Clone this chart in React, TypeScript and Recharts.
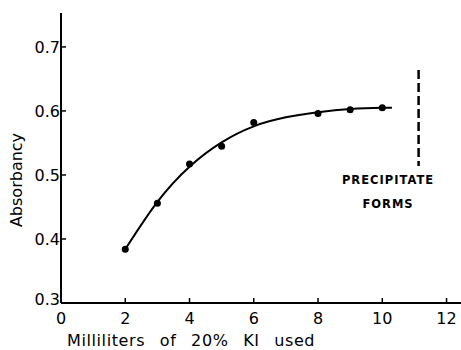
import { ComposedChart, Line, Scatter, XAxis, YAxis, ReferenceLine } from 'recharts'

// measured points (mL of 20% KI, absorbancy)
const pointX = [2, 3, 4, 5, 6, 8, 9, 10]
const pointY = [0.384, 0.456, 0.517, 0.545, 0.582, 0.596, 0.602, 0.605]

// hand-drawn fitted curve
const curveX = [2, 3, 4, 5, 6, 7, 8, 9, 10, 10.3]
const curveY = [0.384, 0.458, 0.513, 0.551, 0.576, 0.590, 0.598, 0.603, 0.605, 0.605]

const xTicks = [0, 2, 4, 6, 8, 10, 12]
const yTicks = [0.3, 0.4, 0.5, 0.6, 0.7]

const precipitateAt = 11.13
const precipitateRange = [0.514, 0.664]

const points = pointX.map((x, i) => ({ x, y: pointY[i] }))
const curve = curveX.map((x, i) => ({ x, y: curveY[i] }))

const FONT = '"DejaVu Sans", sans-serif'

const XTick = (props: any) => {
  const { x, y, payload } = props
  return (
    <g>
      <line x1={x} y1={y} x2={x} y2={y - 5} stroke="#000" strokeWidth={1.5} />
      <text x={x} y={y + 21} textAnchor="middle" fontSize={16} fontFamily={FONT} fill="#000">
        {payload.value}
      </text>
    </g>
  )
}

const YTick = (props: any) => {
  const { x, y, payload } = props
  // the bottom label sits just above the corner, as in the original
  const dy = payload.value === 0.3 ? 2 : 6
  return (
    <g>
      <line x1={x} y1={y} x2={x + 5} y2={y} stroke="#000" strokeWidth={1.5} />
      <text x={x - 1} y={y + dy} textAnchor="end" fontSize={16} fontFamily={FONT} fill="#000">
        {payload.value.toFixed(1)}
      </text>
    </g>
  )
}

export default function App() {
  return (
    <div style={{ position: 'absolute', left: 0, top: 0, width: 461, height: 350, background: '#fff' }}>
      <ComposedChart width={461} height={350} margin={{ top: 13, right: 0, bottom: 0, left: 0 }}>
        <XAxis
          type="number"
          dataKey="x"
          domain={[0, 12.45]}
          ticks={xTicks}
          height={47}
          tickSize={0}
          tickMargin={0}
          tickLine={false}
          tick={<XTick />}
          axisLine={{ stroke: '#000', strokeWidth: 2 }}
          allowDataOverflow
          label={({ viewBox }: any) => (
            <text
              x={viewBox.x + 6}
              y={viewBox.y + 43}
              fontSize={16}
              fontFamily={FONT}
              letterSpacing={0.6}
              wordSpacing={9}
              fill="#000"
            >
              Milliliters of 20% KI used
            </text>
          )}
        />
        <YAxis
          type="number"
          dataKey="y"
          domain={[0.3, 0.753]}
          ticks={yTicks}
          width={61}
          tickSize={0}
          tickMargin={0}
          tickLine={false}
          tick={<YTick />}
          axisLine={{ stroke: '#000', strokeWidth: 2 }}
          allowDataOverflow
          label={() => (
            <text
              x={22}
              y={180}
              transform="rotate(-90 22 180)"
              textAnchor="middle"
              fontSize={16}
              fontFamily={FONT}
              fill="#000"
            >
              Absorbancy
            </text>
          )}
        />
        <ReferenceLine
          segment={[
            { x: precipitateAt, y: precipitateRange[1] },
            { x: precipitateAt, y: precipitateRange[0] },
          ]}
          stroke="#000"
          strokeWidth={2.5}
          strokeDasharray="9 4"
        />
        <Line
          data={curve}
          dataKey="y"
          type="natural"
          stroke="#000"
          strokeWidth={2}
          dot={false}
          isAnimationActive={false}
        />
        <Scatter
          data={points}
          dataKey="y"
          fill="#000"
          shape={(p: any) => <circle cx={p.cx} cy={p.cy} r={3.5} fill="#000" />}
          isAnimationActive={false}
        />
      </ComposedChart>
      <div
        style={{
          position: 'absolute',
          left: 337,
          top: 168,
          width: 102,
          textAlign: 'center',
          fontFamily: FONT,
          fontSize: 11.5,
          fontWeight: 'bold',
          letterSpacing: 1,
          lineHeight: '24px',
          color: '#000',
        }}
      >
        PRECIPITATE
        <br />
        FORMS
      </div>
    </div>
  )
}
